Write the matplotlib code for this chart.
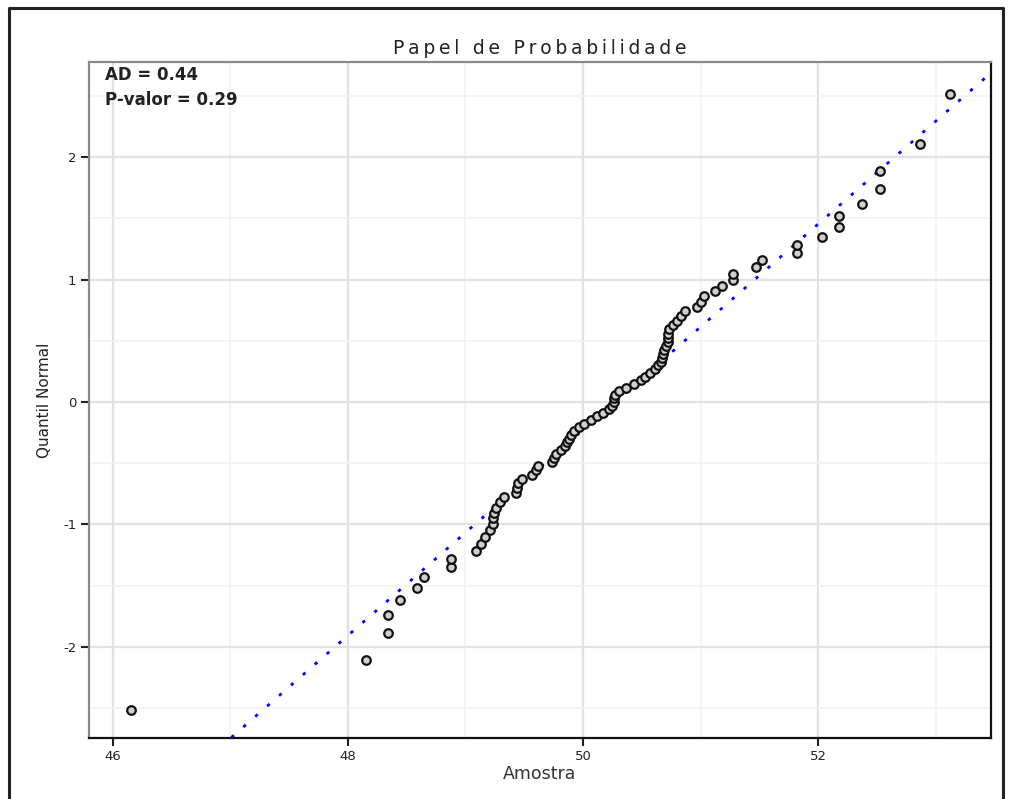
import matplotlib
matplotlib.use("Agg")
import matplotlib.pyplot as plt
from matplotlib.lines import Line2D
from statistics import NormalDist
import numpy as np

# sample values (sorted)
amostra = [46.15, 48.15, 48.34, 48.34, 48.44, 48.59, 48.65, 48.88, 48.88, 49.09,
           49.13, 49.17, 49.21, 49.23, 49.23, 49.24, 49.26, 49.29, 49.33, 49.43,
           49.44, 49.45, 49.48, 49.57, 49.60, 49.62, 49.74, 49.75, 49.77, 49.81,
           49.85, 49.86, 49.88, 49.90, 49.92, 49.97, 50.01, 50.07, 50.12, 50.17,
           50.22, 50.25, 50.26, 50.26, 50.27, 50.31, 50.37, 50.43, 50.49, 50.53,
           50.57, 50.61, 50.64, 50.66, 50.67, 50.68, 50.69, 50.71, 50.72, 50.72,
           50.72, 50.73, 50.77, 50.80, 50.83, 50.87, 50.97, 51.00, 51.03, 51.12,
           51.18, 51.28, 51.28, 51.47, 51.52, 51.82, 51.82, 52.03, 52.18, 52.18,
           52.37, 52.53, 52.53, 52.87, 53.12]

# fitted normal line
media = 50.27
desvio = 1.19

titulo = "Papel de Probabilidade"
ad_text = "AD = 0.44"
p_text = "P-valor = 0.29"

x_ticks = [46, 48, 50, 52]
y_ticks = [-2, -1, 0, 1, 2]

# normal quantiles of the plotting positions
n = len(amostra)
quantis = [NormalDist().inv_cdf((i - 0.5) / n) for i in range(1, n + 1)]

plt.rcParams['font.family'] = ['DejaVu Sans']

fig = plt.figure(figsize=(10.11, 7.99), dpi=100)
ax = fig.add_axes([89 / 1011, 61 / 799, 902 / 1011, 676 / 799])

x_lim = (45.796, 53.472)
y_lim = (-2.746, 2.779)

# grid: majors on the ticks, lighter minors in between
ax.set_xticks(np.arange(45, 54, 1), minor=True)
ax.set_yticks(np.arange(-2.5, 3.0, 0.5), minor=True)
ax.grid(which="minor", color="#f2f2f2", linewidth=1.2)
ax.grid(which="major", color="#e2e2e2", linewidth=1.6)
ax.set_axisbelow(True)

line_x = np.array(x_lim)
ax.plot(line_x, (line_x - media) / desvio, color="#0000ff", linewidth=2,
        linestyle=(0, (1.2, 4.5)), zorder=2)

ax.scatter(amostra, quantis, s=38, facecolor="#d0d0d0", edgecolor="#111111",
           linewidth=1.6, zorder=3)

ax.set_xlim(x_lim)
ax.set_ylim(y_lim)
ax.set_xticks(x_ticks)
ax.set_yticks(y_ticks)
ax.set_xticklabels([str(t) for t in x_ticks])
ax.set_yticklabels([str(t) for t in y_ticks])
ax.tick_params(which="major", direction="out", length=6, width=1.5,
               labelsize=9.5, colors="#222222", pad=3)
ax.tick_params(which="minor", length=0)

for side in ["left", "top"]:
    ax.spines[side].set_color("#8a8a8a")
    ax.spines[side].set_linewidth(1.6)
for side in ["right", "bottom"]:
    ax.spines[side].set_color("#111111")
    ax.spines[side].set_linewidth(1.6)

# title is drawn letter-spaced with thin spaces
ax.set_title("\u2009".join(titulo), fontsize=13.5, pad=6, color="#222222")
ax.set_xlabel("Amostra", fontsize=12.5, labelpad=1, color="#333333")
ax.set_ylabel("Quantil Normal", fontsize=11, labelpad=8, color="#222222")

ax.text(0.0177, 0.981, ad_text, transform=ax.transAxes, fontsize=12,
        fontweight="bold", va="center", ha="left", color="#222222")
ax.text(0.0177, 0.944, p_text, transform=ax.transAxes, fontsize=12,
        fontweight="bold", va="center", ha="left", color="#222222")

# outer frame around the figure (no bottom edge)
frame_x = [9 / 1011, 9 / 1011, 1003 / 1011, 1003 / 1011]
frame_y = [0, 1 - 8 / 799, 1 - 8 / 799, 0]
fig.add_artist(Line2D(frame_x, frame_y, transform=fig.transFigure,
                      color="#222222", linewidth=2.2))

fig.savefig("out.png", dpi=100)
